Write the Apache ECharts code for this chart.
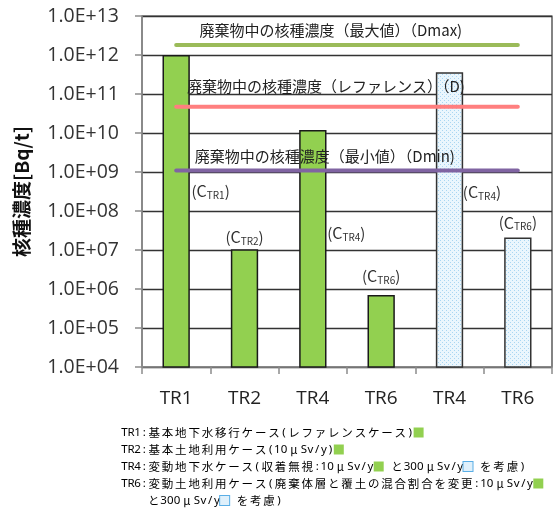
<!DOCTYPE html>
<html>
<head>
<meta charset="utf-8">
<script src="https://cdn.jsdelivr.net/npm/echarts@6/dist/echarts.min.js"></script>
<style>
  html, body { margin: 0; padding: 0; background: #fff; }
  #chart { width: 553px; height: 511px; }
</style>
</head>
<body>
<div id="chart"></div>
<script>
// Case names along the x axis
const categories = ['TR1', 'TR2', 'TR4', 'TR6', 'TR4', 'TR6'];
// Concentration limits for the 10 μSv/y cases [Bq/t]
const caseValues10 = [1.0e12, 1.05e7, 1.2e10, 7.0e5, null, null];
// Concentration limits for the 300 μSv/y cases [Bq/t]
const caseValues300 = [null, null, null, null, 3.6e11, 2.1e7];
// Subscripts of the C labels on each bar
const barTags = ['TR1', 'TR2', 'TR4', 'TR6', 'TR4', 'TR6'];
// Nuclide concentration in waste: maximum, reference, minimum [Bq/t]
const dMax = 1.8e12;
const dRef = 4.7e10;
const dMin = 1.1e9;
// Value axis range (decades)
const yMin = 1e4;
const yMax = 1e13;
// Case notes under the chart; [g] = 10 μSv/y swatch, [b] = 300 μSv/y swatch
const noteLines = [
  'TR1:基本地下水移行ケース(レファレンスケース)[g]',
  'TR2:基本土地利用ケース(10μSv/y)[g]',
  'TR4:変動地下水ケース(収着無視:10μSv/y[g] と300μSv/y[b] を考慮)',
  'TR6:変動土地利用ケース(廃棄体層と覆土の混合割合を変更:10μSv/y[g]'
];
const noteTail = 'と300μSv/y[b] を考慮)';

const FONT = '"Noto Sans CJK JP", "Noto Sans", sans-serif';

// dotted light-blue fill for the 300 μSv/y bars
function dotPattern() {
  const c = document.createElement('canvas');
  c.width = 4; c.height = 4;
  const g = c.getContext('2d');
  g.fillStyle = '#eaf6fd';
  g.fillRect(0, 0, 4, 4);
  g.fillStyle = '#a9d6f2';
  g.fillRect(0, 0, 1, 1);
  g.fillRect(2, 2, 1, 1);
  return c;
}
const pattern = { image: dotPattern(), repeat: 'repeat' };

const labelRich = {
  p: { fontSize: 15, color: '#333', fontFamily: FONT },
  c: { fontSize: 16, color: '#333', fontFamily: FONT },
  s: { fontSize: 10, color: '#333', fontFamily: FONT, padding: [8, 0, 0, 0] }
};
function cLabel(i) {
  return '{p|(}{c|C}{s|' + barTags[i] + '}{p|)}';
}
// label placement per bar: above the bar or beside it
const labelPlace = [
  { position: [29, 127] },
  { position: 'top', distance: 3 },
  { position: [28, 94] },
  { position: 'top', distance: 10 },
  { position: [27, 111] },
  { position: 'top', distance: 6 }
];

function barData(values) {
  return values.map(function (v, i) {
    if (v == null) return null;
    return {
      value: v,
      label: Object.assign({
        show: true,
        formatter: cLabel(i),
        rich: labelRich
      }, labelPlace[i])
    };
  });
}

function refLine(value, color, text, offset) {
  return {
    type: 'line',
    data: categories.map(function (_, i) {
      if (i !== 2) return value;
      return {
        value: value,
        label: {
          show: true,
          position: 'top',
          distance: 5,
          offset: offset,
          formatter: text,
          fontFamily: FONT,
          fontSize: 15,
          color: '#222'
        }
      };
    }),
    symbol: 'circle',
    symbolSize: 1,
    itemStyle: { color: color },
    lineStyle: { color: color, width: 4, cap: 'round' },
    silent: true,
    z: 5
  };
}

// notes are set on a fixed grid: full-width cells and half-width cells
const CELL = 13.3;
const noteRich = {
  f: { fontFamily: FONT, fontSize: 11.5, color: '#444', width: CELL, align: 'center', lineHeight: 17 },
  h: { fontFamily: '"Noto Sans", sans-serif', fontSize: 11.5, color: '#444', width: CELL / 2, align: 'center', lineHeight: 17 },
  g: { width: 10, height: 10, backgroundColor: '#92d050' },
  b: { width: 9, height: 9, backgroundColor: '#dff0fb', borderColor: '#5aaee6', borderWidth: 1 }
};
function noteRichText(line) {
  let out = '';
  let i = 0;
  while (i < line.length) {
    if (line.startsWith('[g]', i)) { out += '{g| }'; i += 3; continue; }
    if (line.startsWith('[b]', i)) { out += '{b| }'; i += 3; continue; }
    const ch = line[i];
    const wide = ch.charCodeAt(0) >= 0x3000 || ch === 'μ';
    out += '{' + (wide ? 'f' : 'h') + '|' + ch + '}';
    i += 1;
  }
  return out;
}

const chart = echarts.init(document.getElementById('chart'), null, { renderer: 'canvas' });

chart.setOption({
  animation: false,
  backgroundColor: '#fff',
  grid: {
    left: 142, right: 1, top: 16, bottom: 144,
    show: true, borderColor: '#333', borderWidth: 1.2
  },
  xAxis: {
    type: 'category',
    data: categories.map(function (_, i) { return String(i); }),
    boundaryGap: true,
    axisLine: { lineStyle: { color: '#8c8c8c', width: 1.5 } },
    axisTick: { show: true, length: 7, lineStyle: { color: '#8c8c8c', width: 1.5 } },
    axisLabel: {
      formatter: function (v, i) { return categories[i]; },
      fontFamily: '"Open Sans", sans-serif',
      fontSize: 19,
      color: '#222',
      margin: 22
    }
  },
  yAxis: {
    type: 'log',
    logBase: 10,
    min: yMin,
    max: yMax,
    interval: 1,
    name: '核種濃度[Bq/t]',
    nameLocation: 'middle',
    nameRotate: 90,
    nameGap: 111,
    nameTextStyle: { fontFamily: FONT, fontSize: 19, fontWeight: 'bold', color: '#111' },
    axisLine: { show: true, lineStyle: { color: '#8c8c8c', width: 1.5 } },
    axisTick: { show: true, length: 7, lineStyle: { color: '#8c8c8c', width: 1.5 } },
    splitLine: { show: true, lineStyle: { color: '#333', width: 1.3 } },
    axisLabel: {
      formatter: function (v) {
        const e = Math.round(Math.log10(v));
        return '1.0E+' + String(e).padStart(2, '0');
      },
      fontFamily: '"Open Sans", sans-serif',
      fontSize: 19.5,
      color: '#333',
      margin: 23
    }
  },
  series: [
    {
      type: 'bar',
      data: barData(caseValues10),
      barWidth: '40%',
      barGap: '-100%',
      itemStyle: { color: '#92d050', borderColor: '#1a1a1a', borderWidth: 1.5 },
      z: 3
    },
    {
      type: 'bar',
      data: barData(caseValues300),
      barWidth: '40%',
      barGap: '-100%',
      itemStyle: { color: pattern, borderColor: '#333', borderWidth: 1.5 },
      z: 3
    },
    refLine(dMax, '#9bbb59', '廃棄物中の核種濃度（最大値）（Dmax)', [18, -2]),
    refLine(dRef, '#ff7f7f', '廃棄物中の核種濃度（レファレンス）（D)', [13, -7]),
    refLine(dMin, '#8064a2', '廃棄物中の核種濃度（最小値）（Dmin)', [12, -1])
  ],
  graphic: noteLines.map(function (line, k) {
    return {
      type: 'text',
      left: 121,
      top: 426.5 + k * 17,
      style: { text: noteRichText(line), rich: noteRich }
    };
  }).concat([{
    type: 'text',
    left: 147,
    top: 426.5 + 4 * 17,
    style: { text: noteRichText(noteTail), rich: noteRich }
  }])
});
</script>
</body>
</html>
